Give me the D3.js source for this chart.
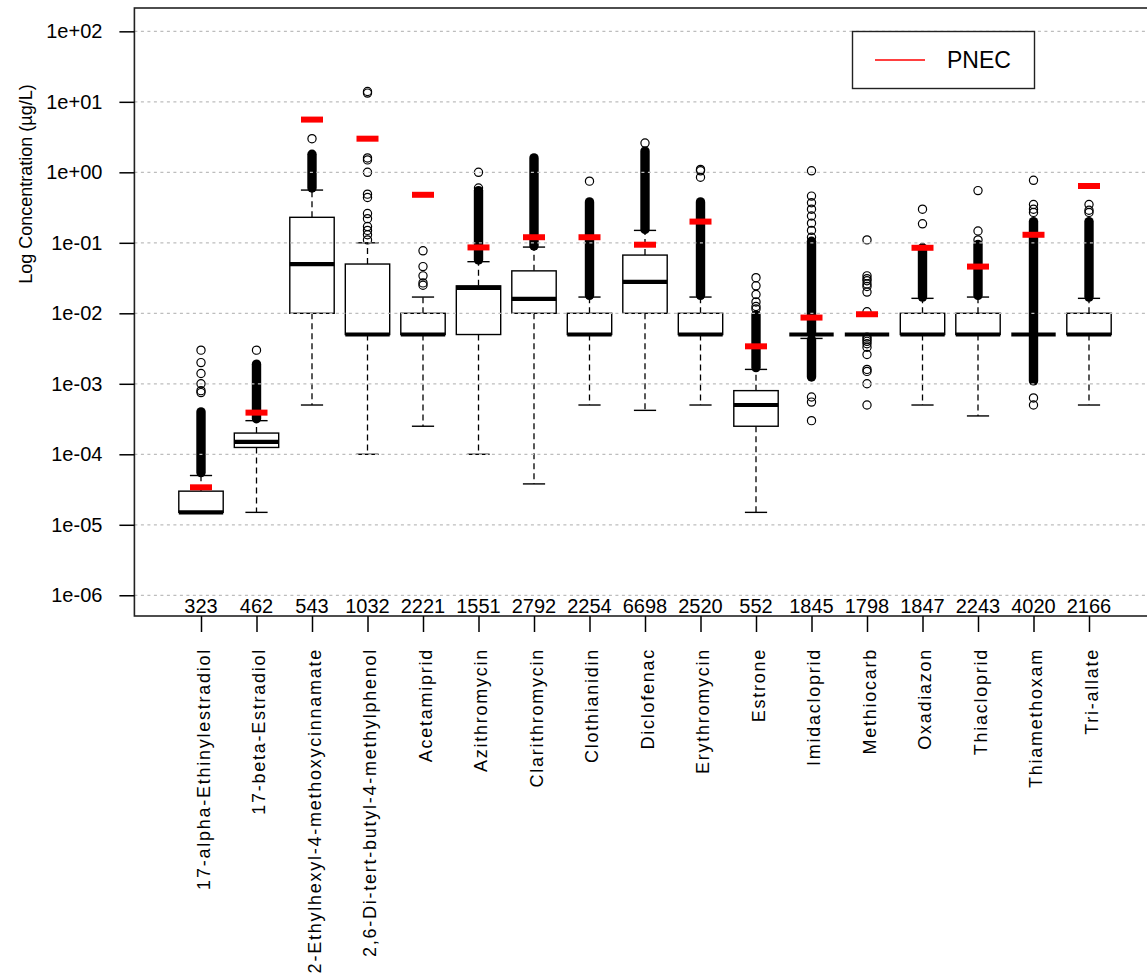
<!DOCTYPE html>
<html>
<head>
<meta charset="utf-8">
<script src="https://cdn.jsdelivr.net/npm/d3@7"></script>
<style>
  html, body { margin: 0; padding: 0; background: #fff; }
  svg { display: block; }
  text { font-family: "Liberation Sans", Arial, sans-serif; fill: #000; }
</style>
</head>
<body>
<svg id="chart" width="1147" height="978"></svg>
<script>
// ---------------- data ----------------
const categories = [
  "17-alpha-Ethinylestradiol", "17-beta-Estradiol", "2-Ethylhexyl-4-methoxycinnamate",
  "2,6-Di-tert-butyl-4-methylphenol", "Acetamiprid", "Azithromycin", "Clarithromycin",
  "Clothianidin", "Diclofenac", "Erythromycin", "Estrone", "Imidacloprid", "Methiocarb",
  "Oxadiazon", "Thiacloprid", "Thiamethoxam", "Tri-allate"
];
const counts = [323, 462, 543, 1032, 2221, 1551, 2792, 2254, 6698, 2520, 552, 1845, 1798, 1847, 2243, 4020, 2166];

const whiskerLow  = [1.5e-5, 1.5e-5, 5e-4, 1e-4, 2.5e-4, 1e-4, 3.8e-5, 5e-4, 4.2e-4, 5e-4, 1.5e-5, 0.0044, 0.005, 5e-4, 3.5e-4, 0.005, 5e-4];
const q1          = [1.5e-5, 1.25e-4, 0.01, 0.005, 0.005, 0.005, 0.01, 0.005, 0.01, 0.005, 2.5e-4, 0.005, 0.005, 0.005, 0.005, 0.005, 0.005];
const medians     = [1.5e-5, 1.5e-4, 0.05, 0.005, 0.005, 0.023, 0.016, 0.005, 0.028, 0.005, 5e-4, 0.005, 0.005, 0.005, 0.005, 0.005, 0.005];
const q3          = [3e-5, 2e-4, 0.23, 0.05, 0.01, 0.0245, 0.04, 0.01, 0.067, 0.01, 8e-4, 0.005, 0.005, 0.01, 0.01, 0.005, 0.01];
const whiskerHigh = [5e-5, 3e-4, 0.56, 0.1, 0.017, 0.054, 0.087, 0.017, 0.15, 0.017, 1.6e-3, 0.005, 0.005, 0.0163, 0.017, 0.005, 0.0163];
const pnec        = [3.4e-5, 3.9e-4, 5.6, 3.0, 0.48, 0.086, 0.12, 0.12, 0.094, 0.2, 3.4e-3, 0.0087, 0.0097, 0.085, 0.046, 0.13, 0.64];

// individual outliers
const outliers = [
  [7.5e-4, 8e-4, 1e-3, 1.4e-3, 2e-3, 3e-3],
  [3e-3],
  [3.0],
  [14, 13.3, 1.6, 1.5, 1.0, 0.49, 0.44, 0.26, 0.22, 0.17, 0.15, 0.13, 0.11],
  [0.077, 0.046, 0.034, 0.027, 0.025],
  [0.6, 1.0],
  [],
  [0.75],
  [2.6],
  [1.1, 1.05, 0.85],
  [0.0115, 0.0125, 0.0145, 0.0185, 0.0245, 0.032],
  [0.12, 0.15, 0.19, 0.24, 0.3, 0.37, 0.46, 1.05, 6.5e-4, 5.5e-4, 3e-4],
  [0.11, 0.034, 0.031, 0.029, 0.026, 0.024, 0.02, 0.0105, 0.0046, 0.0043, 0.004, 0.0037, 0.0033, 0.0026, 0.0016, 0.0015, 1e-3, 5e-4],
  [0.3, 0.186],
  [0.55, 0.147, 0.11],
  [0.77, 0.35, 0.3, 0.27, 6.3e-4, 5e-4],
  [0.35, 0.29, 0.27]
];
// ranges where outlier circles are so dense they merge into a solid column [low, high]
const outlierBands = [
  [[5.5e-5, 4e-4]],
  [[3.2e-4, 1.9e-3]],
  [[0.6, 1.8]],
  [],
  [],
  [[0.057, 0.55]],
  [[0.09, 1.6]],
  [[0.018, 0.38]],
  [[0.155, 2.0]],
  [[0.018, 0.38]],
  [[1.7e-3, 9.5e-3]],
  [[0.0052, 0.105], [1.25e-3, 0.0042]],
  [],
  [[0.017, 0.085]],
  [[0.018, 0.095]],
  [[0.0052, 0.2], [1.1e-3, 0.0048]],
  [[0.017, 0.2]]
];
const yTickValues = [1e-6, 1e-5, 1e-4, 1e-3, 1e-2, 1e-1, 1, 10, 100];
const yTickLabels = ["1e-06", "1e-05", "1e-04", "1e-03", "1e-02", "1e-01", "1e+00", "1e+01", "1e+02"];
const yTitle = "Log Concentration (\u00b5g/L)";
const legendLabel = "PNEC";

// ---------------- layout ----------------
const svg = d3.select("#chart");
const plotLeft = 134.4, plotRight = 1155.6, plotTop = 8, plotBottom = 616;

const x = d3.scaleLinear().domain([-0.2, categories.length + 1.2]).range([plotLeft, plotRight]);
const y = d3.scaleLog().domain([Math.pow(10, -6.294), Math.pow(10, 2.331)]).range([plotBottom, plotTop]);

const step = x(2) - x(1);
const boxW = step * 0.8;
const capW = boxW * 0.5;
const r = 4.1;

const g = svg.append("g");

// boxes
categories.forEach((c, i) => {
  const cx = x(i + 1);
  const gg = g.append("g");
  // whiskers (dashed)
  gg.append("line").attr("x1", cx).attr("x2", cx).attr("y1", y(q3[i])).attr("y2", y(whiskerHigh[i]))
    .attr("stroke", "#000").attr("stroke-width", 1.3).attr("stroke-dasharray", "6,4");
  gg.append("line").attr("x1", cx).attr("x2", cx).attr("y1", y(q1[i])).attr("y2", y(whiskerLow[i]))
    .attr("stroke", "#000").attr("stroke-width", 1.3).attr("stroke-dasharray", "6,4");
  // caps
  [whiskerHigh[i], whiskerLow[i]].forEach(v => {
    gg.append("line").attr("x1", cx - capW / 2).attr("x2", cx + capW / 2).attr("y1", y(v)).attr("y2", y(v))
      .attr("stroke", "#000").attr("stroke-width", 1.4);
  });
  // box
  gg.append("rect").attr("x", cx - boxW / 2).attr("width", boxW)
    .attr("y", y(q3[i])).attr("height", Math.max(0, y(q1[i]) - y(q3[i])))
    .attr("fill", "#fff").attr("stroke", "#000").attr("stroke-width", 1.4);
  // median
  gg.append("line").attr("x1", cx - boxW / 2).attr("x2", cx + boxW / 2)
    .attr("y1", y(medians[i])).attr("y2", y(medians[i]))
    .attr("stroke", "#000").attr("stroke-width", 4.2);
  // dense outlier columns
  outlierBands[i].forEach(b => {
    gg.append("line").attr("x1", cx).attr("x2", cx).attr("y1", y(b[0])).attr("y2", y(b[1]))
      .attr("stroke", "#000").attr("stroke-width", 2 * r + 1.2).attr("stroke-linecap", "round");
  });
  // individual outliers
  gg.selectAll("circle.o").data(outliers[i]).enter().append("circle")
    .attr("cx", cx).attr("cy", d => y(d)).attr("r", r)
    .attr("fill", "none").attr("stroke", "#000").attr("stroke-width", 1.2);
});

// grid (drawn over boxes, like the original)
svg.append("g").selectAll("line").data(yTickValues).enter().append("line")
  .attr("x1", plotLeft).attr("x2", plotRight)
  .attr("y1", d => y(d)).attr("y2", d => y(d))
  .attr("stroke", "#bdbdbd").attr("stroke-width", 1.2).attr("stroke-dasharray", "3,3.5");

// PNEC marks
svg.append("g").selectAll("line").data(pnec).enter().append("line")
  .attr("x1", (d, i) => x(i + 1) - 11).attr("x2", (d, i) => x(i + 1) + 11)
  .attr("y1", d => y(d)).attr("y2", d => y(d))
  .attr("stroke", "#ff0000").attr("stroke-width", 6);

// frame
svg.append("rect").attr("x", plotLeft).attr("y", plotTop)
  .attr("width", plotRight - plotLeft).attr("height", plotBottom - plotTop)
  .attr("fill", "none").attr("stroke", "#222").attr("stroke-width", 1.6);

// y axis
const yAxis = d3.axisLeft(y).tickValues(yTickValues)
  .tickFormat((d, i) => yTickLabels[i]).tickSize(15).tickPadding(17);
const ya = svg.append("g").attr("transform", `translate(${plotLeft},0)`).call(yAxis);
ya.select(".domain").remove();
ya.selectAll(".tick line").attr("stroke", "#000").attr("stroke-width", 1.5);
ya.selectAll(".tick text").attr("font-size", "20px").attr("font-family", "Liberation Sans, Arial, sans-serif").attr("fill", "#000");

// x axis ticks and labels
const xAxis = d3.axisBottom(x).tickValues(d3.range(1, categories.length + 1))
  .tickFormat(d => categories[d - 1]).tickSize(16).tickPadding(0);
const xa = svg.append("g").attr("transform", `translate(0,${plotBottom})`).call(xAxis);
xa.select(".domain").remove();
xa.selectAll(".tick line").attr("stroke", "#000").attr("stroke-width", 1.5);
xa.selectAll(".tick text")
  .attr("font-size", "18px").attr("font-family", "Liberation Sans, Arial, sans-serif").attr("fill", "#000")
  .attr("letter-spacing", "1.75px")
  .attr("text-anchor", "end").attr("dy", null)
  .attr("transform", "translate(8,32) rotate(-90)")
  .attr("x", 0).attr("y", 0);

// sample counts
svg.append("g").selectAll("text").data(counts).enter().append("text")
  .attr("x", (d, i) => x(i + 1)).attr("y", 613)
  .attr("text-anchor", "middle").attr("font-size", "20px")
  .text(d => d);

// y title
svg.append("text").attr("transform", "translate(32,184) rotate(-90)")
  .attr("text-anchor", "middle").attr("font-size", "18px").text(yTitle);

// legend
const lg = svg.append("g");
lg.append("rect").attr("x", 852.5).attr("y", 31.5).attr("width", 182).attr("height", 57)
  .attr("fill", "#fff").attr("stroke", "#222").attr("stroke-width", 1.4);
lg.append("line").attr("x1", 875).attr("x2", 925).attr("y1", 60).attr("y2", 60)
  .attr("stroke", "#ff0000").attr("stroke-width", 1.6);
lg.append("text").attr("x", 947).attr("y", 68).attr("font-size", "23px").text(legendLabel);
</script>
</body>
</html>
